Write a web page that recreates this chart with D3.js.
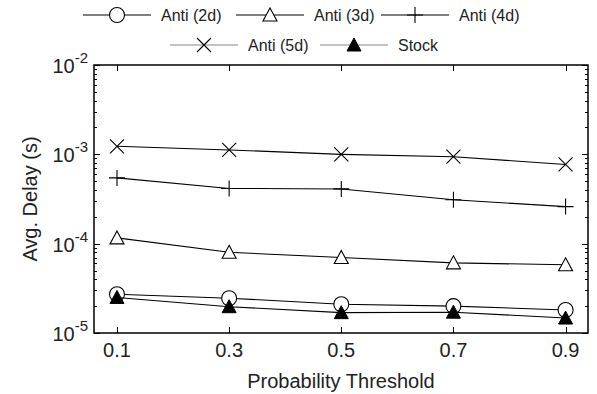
<!DOCTYPE html>
<html lang="en">
<head>
    <meta charset="UTF-8">
    <title>Avg. Delay vs Probability Threshold</title>
    <script src="https://d3js.org/d3.v7.min.js"></script>
    <style>
        body { margin: 0; background: #fff; }
        text { font-family: "Liberation Sans", Arial, sans-serif; fill: #222; }
        .axis path, .axis line { stroke: #000; shape-rendering: crispEdges; }
    </style>
</head>
<body>
    <svg width="597" height="394"></svg>

    <script>
        // Data
        const thresholds = [0.1, 0.3, 0.5, 0.7, 0.9];
        const anti2d = [2.72e-5, 2.45e-5, 2.1e-5, 2.0e-5, 1.81e-5];
        const anti3d = [1.16e-4, 8.0e-5, 7.0e-5, 6.1e-5, 5.8e-5];
        const anti4d = [5.45e-4, 4.15e-4, 4.1e-4, 3.1e-4, 2.6e-4];
        const anti5d = [1.23e-3, 1.12e-3, 1.0e-3, 0.94e-3, 0.77e-3];
        const stock = [2.5e-5, 1.97e-5, 1.69e-5, 1.71e-5, 1.47e-5];
        const yTicks = [1e-5, 1e-4, 1e-3, 1e-2];

        const series = [
            { name: "Anti (2d)", values: anti2d, marker: "circle" },
            { name: "Anti (3d)", values: anti3d, marker: "triangle" },
            { name: "Anti (4d)", values: anti4d, marker: "plus" },
            { name: "Anti (5d)", values: anti5d, marker: "cross" },
            { name: "Stock", values: stock, marker: "filledTriangle" }
        ];

        const margin = { top: 65, right: 9, bottom: 61, left: 94 };
        const width = 597 - margin.left - margin.right;
        const height = 394 - margin.top - margin.bottom;

        const svg = d3.select("svg");
        const g = svg.append("g")
            .attr("transform", `translate(${margin.left},${margin.top})`);

        const x = d3.scaleLinear().domain([0.059, 0.94]).range([0, width]);
        const y = d3.scaleLog().domain([1e-5, 1e-2]).range([height, 0]);

        // minor ticks for the log axis
        const minor = [];
        [1e-5, 1e-4, 1e-3].forEach(p => {
            for (let k = 2; k <= 9; k++) minor.push(p * k);
        });

        // y axis left and right, ticks inward
        g.append("g").attr("class", "axis")
            .call(d3.axisRight(y).tickValues(minor).tickSize(3).tickFormat(""))
            .call(a => a.select(".domain").remove());
        g.append("g").attr("class", "axis")
            .call(d3.axisRight(y).tickValues(yTicks).tickSize(6).tickFormat(""))
            .call(a => a.select(".domain").remove());
        g.append("g").attr("class", "axis")
            .attr("transform", `translate(${width},0)`)
            .call(d3.axisLeft(y).tickValues(minor).tickSize(3).tickFormat(""))
            .call(a => a.select(".domain").remove());
        g.append("g").attr("class", "axis")
            .attr("transform", `translate(${width},0)`)
            .call(d3.axisLeft(y).tickValues(yTicks).tickSize(6).tickFormat(""))
            .call(a => a.select(".domain").remove());

        // x axis bottom and top, ticks inward
        g.append("g").attr("class", "axis")
            .attr("transform", `translate(0,${height})`)
            .call(d3.axisTop(x).tickValues(thresholds).tickSize(6).tickFormat(""))
            .call(a => a.select(".domain").remove());
        g.append("g").attr("class", "axis")
            .call(d3.axisBottom(x).tickValues(thresholds).tickSize(6).tickFormat(""))
            .call(a => a.select(".domain").remove());

        // frame
        g.append("rect")
            .attr("width", width).attr("height", height)
            .attr("fill", "none").attr("stroke", "#000").attr("stroke-width", 1.5);

        // x tick labels
        g.selectAll(".xlab").data(thresholds).enter().append("text")
            .attr("x", d => x(d)).attr("y", height + 24)
            .attr("text-anchor", "middle")
            .style("font-size", "20px")
            .text(d => d.toFixed(1));

        // y tick labels with superscript exponent
        const yl = g.selectAll(".ylab").data(yTicks).enter().append("text")
            .attr("x", -6).attr("y", d => y(d) + 8)
            .attr("text-anchor", "end")
            .style("font-size", "20px");
        yl.append("tspan").text("10");
        yl.append("tspan").attr("dy", -10).style("font-size", "15px")
            .text(d => "-" + Math.round(-Math.log10(d)));

        // axis titles
        g.append("text")
            .attr("x", width / 2).attr("y", height + 55)
            .attr("text-anchor", "middle")
            .style("font-size", "20px")
            .text("Probability Threshold");
        g.append("text")
            .attr("transform", `translate(${30 - margin.left},${height / 2}) rotate(-90)`)
            .attr("text-anchor", "middle")
            .attr("dy", "0.35em")
            .style("font-size", "20px")
            .text("Avg. Delay (s)");

        // marker drawing
        const tri = "M0,-7L7,6L-7,6Z";
        function drawMarker(sel, type) {
            if (type === "circle") {
                sel.append("circle").attr("r", 7.5).attr("fill", "#fff").attr("stroke", "#000").attr("stroke-width", 1.1);
            } else if (type === "triangle") {
                sel.append("path").attr("d", tri).attr("fill", "#fff").attr("stroke", "#000").attr("stroke-width", 1.1);
            } else if (type === "filledTriangle") {
                sel.append("path").attr("d", tri).attr("fill", "#000").attr("stroke", "#000");
            } else if (type === "plus") {
                sel.append("path").attr("d", "M-8,0L8,0M0,-8L0,8").attr("stroke", "#000").attr("stroke-width", 1.1);
            } else if (type === "cross") {
                sel.append("path").attr("d", "M-7,-7L7,7M-7,7L7,-7").attr("stroke", "#000").attr("stroke-width", 1.1);
            }
        }

        const line = d3.line().x((d, i) => x(thresholds[i])).y(d => y(d));

        series.forEach(s => {
            g.append("path")
                .datum(s.values)
                .attr("fill", "none").attr("stroke", "#000").attr("stroke-width", 1.1)
                .attr("d", line);
            g.selectAll(null).data(s.values).enter().append("g")
                .attr("transform", (d, i) => `translate(${x(thresholds[i])},${y(d)})`)
                .each(function() { drawMarker(d3.select(this), s.marker); });
        });

        // legend (two rows), entry start positions
        const legendRows = [
            { y: 15, starts: [83, 236, 381], items: series.slice(0, 3), color: "#000" },
            { y: 45, starts: [170, 320], items: series.slice(3), color: "#888" }
        ];
        legendRows.forEach(row => {
            row.items.forEach((s, i) => {
                const lg = svg.append("g").attr("transform", `translate(${row.starts[i]},${row.y})`);
                lg.append("line").attr("x1", 0).attr("x2", 68)
                    .attr("stroke", row.color).attr("stroke-width", 1.1);
                drawMarker(lg.append("g").attr("transform", "translate(34,0)"), s.marker);
                lg.append("text").attr("x", 78).attr("dy", "0.35em")
                    .style("font-size", "16px").text(s.name);
            });
        });
    </script>
</body>
</html>
